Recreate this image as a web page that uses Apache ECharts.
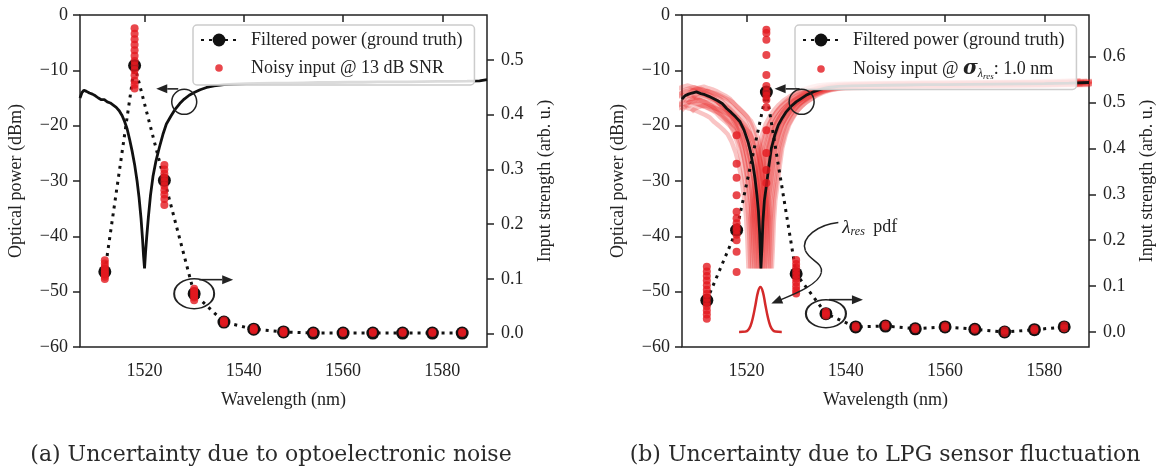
<!DOCTYPE html>
<html>
<head>
<meta charset="utf-8">
<script src="https://cdn.jsdelivr.net/npm/echarts@6/dist/echarts.min.js"></script>
<style>
  html, body { margin: 0; padding: 0; background: #ffffff; }
  #main { width: 1168px; height: 472px; }
</style>
</head>
<body>
<div id="main"></div>
<script>
// ---------- data ----------
const wavelengths = [1512, 1518, 1524, 1530, 1536, 1542, 1548, 1554, 1560, 1566, 1572, 1578, 1584];

// (a) optoelectronic noise
const filteredA = [0.113, 0.490, 0.280, 0.073, 0.021, 0.008, 0.003, 0.001, 0.001, 0.001, 0.001, 0.001, 0.001];
const noisyA = [
  [0.134, 0.128, 0.122, 0.118, 0.114, 0.111, 0.108, 0.104, 0.100],
  [0.558, 0.548, 0.538, 0.528, 0.518, 0.508, 0.498, 0.490, 0.482, 0.472, 0.462, 0.455, 0.448],
  [0.308, 0.300, 0.292, 0.285, 0.278, 0.270, 0.262, 0.254, 0.246, 0.235],
  [0.082, 0.078, 0.074, 0.070, 0.066, 0.061],
  [0.024, 0.021, 0.019],
  [0.010, 0.008, 0.006],
  [0.005, 0.003, 0.001],
  [0.003, 0.001],
  [0.003, 0.001],
  [0.003, 0.001],
  [0.003, 0.001],
  [0.003, 0.001],
  [0.003, 0.001]
];
const spectrumA_wl = [1507.0, 1507.4, 1507.8, 1508.3, 1508.9, 1509.5, 1510.1, 1510.7, 1511.3, 1511.9, 1512.5, 1513.1, 1513.7, 1514.3, 1514.9, 1515.5, 1516.0, 1516.5, 1517.0, 1517.5, 1518.0, 1518.5, 1518.9, 1519.3, 1519.6, 1519.8, 1520.0, 1520.2, 1520.45, 1520.8, 1521.2, 1521.7, 1522.3, 1523.0, 1523.7, 1524.4, 1525.3, 1526.2, 1527.1, 1528.0, 1529.0, 1530.0, 1531.2, 1532.5, 1534.0, 1536.0, 1538.0, 1540.5, 1543.0, 1546.0, 1549.0, 1552.0, 1555.0, 1558.0, 1561.0, 1564.0, 1567.0, 1570.0, 1573.0, 1576.0, 1579.0, 1582.0, 1585.0, 1587.5, 1589.0];
const spectrumA_dbm = [-15.0, -14.0, -13.6, -13.8, -14.1, -14.3, -14.6, -15.0, -15.3, -15.3, -15.7, -15.9, -16.3, -16.7, -17.3, -18.2, -19.3, -20.6, -22.5, -24.6, -27.0, -30.0, -33.0, -36.8, -40.5, -43.5, -45.8, -43.0, -40.0, -36.3, -32.6, -29.2, -26.4, -23.9, -21.6, -19.7, -18.3, -17.0, -16.0, -15.2, -14.5, -14.0, -13.5, -13.1, -12.8, -12.6, -12.5, -12.4, -12.35, -12.3, -12.3, -12.25, -12.2, -12.2, -12.15, -12.15, -12.1, -12.1, -12.1, -12.05, -12.0, -12.0, -11.95, -11.9, -11.7];

// (b) LPG sensor fluctuation
const filteredB = [0.069, 0.222, 0.523, 0.127, 0.040, 0.011, 0.013, 0.007, 0.011, 0.006, 0.000, 0.005, 0.011];
const noisyB = [
  [0.142, 0.132, 0.122, 0.112, 0.102, 0.092, 0.083, 0.074, 0.065, 0.056, 0.047, 0.038, 0.029],
  [0.429, 0.367, 0.336, 0.298, 0.262, 0.248, 0.237, 0.228, 0.222, 0.212, 0.200, 0.175, 0.131],
  [0.659, 0.652, 0.637, 0.604, 0.560, 0.536, 0.523, 0.515, 0.506, 0.490, 0.440, 0.390, 0.353, 0.325],
  [0.157, 0.148, 0.140, 0.132, 0.124, 0.116, 0.108, 0.099, 0.091, 0.084],
  [0.044, 0.040, 0.036],
  [0.013, 0.010],
  [0.016, 0.012],
  [0.009, 0.006],
  [0.013, 0.009],
  [0.008, 0.005],
  [0.003, -0.002],
  [0.007, 0.004],
  [0.014, 0.008]
];
const spectrumB_wl = [1507.0, 1507.6, 1508.3, 1509.0, 1509.9, 1510.8, 1511.6, 1512.4, 1513.3, 1514.2, 1515.1, 1516.0, 1516.9, 1517.8, 1518.7, 1519.5, 1520.3, 1520.8, 1521.3, 1521.7, 1522.1, 1522.4, 1522.65, 1522.9, 1523.1, 1523.3, 1523.6, 1524.1, 1524.5, 1525.0, 1525.7, 1526.4, 1527.2, 1528.0, 1529.0, 1530.0, 1531.0, 1532.2, 1533.4, 1535.0, 1536.5, 1538.5, 1541.0, 1544.0, 1548.0, 1552.0, 1556.0, 1560.0, 1565.0, 1570.0, 1575.0, 1580.0, 1585.0, 1589.0];
const spectrumB_dbm = [-15.2, -14.6, -14.3, -14.1, -13.9, -14.2, -14.4, -14.7, -15.1, -15.5, -16.0, -16.9, -17.6, -18.4, -19.3, -20.8, -22.9, -24.7, -27.1, -29.5, -32.6, -35.5, -39.5, -45.8, -42.0, -37.4, -33.5, -30.2, -27.3, -24.1, -21.7, -19.9, -18.6, -17.5, -16.5, -15.7, -15.1, -14.4, -13.9, -13.4, -13.1, -12.9, -12.8, -12.75, -12.7, -12.65, -12.6, -12.6, -12.55, -12.5, -12.45, -12.4, -12.3, -12.2];
const dipB = 1522.9;

// resonance wavelength samples: shift in nm, level change in dB on the short / long side
const lambdaShifts = [-2.5, -2.1, -1.7, -1.3, -1.0, -0.7, -0.4, -0.1, 0.2, 0.5, 0.8, 1.1, 1.5, 1.9, 2.2];
const levelShort = [-2.8, -0.5, 1.2, -1.8, 0.4, -1.2, 0.9, -2.2, -0.3, -1.5, 0.6, -0.9, 1.0, -2.5, 0.2];
const levelLong = [0.3, -0.2, 0.4, -0.3, 0.1, -0.1, 0.3, -0.3, 0.1, -0.4, 0.2, -0.2, 0.3, -0.2, 0.1];

// probability density of the resonance wavelength
const pdfWl = [1518.5, 1519.8, 1520.3, 1520.8, 1521.3, 1521.8, 1522.3, 1522.8, 1523.3, 1523.8, 1524.3, 1524.8, 1525.3, 1525.8, 1527.1];
const pdfVal = [0, 0.001, 0.004, 0.013, 0.032, 0.059, 0.087, 0.098, 0.087, 0.059, 0.032, 0.013, 0.004, 0.001, 0];

const wavelengthTicks = [1520, 1540, 1560, 1580];
const strengthTicksA = [0, 0.1, 0.2, 0.3, 0.4, 0.5];
const strengthTicksB = [0, 0.1, 0.2, 0.3, 0.4, 0.5, 0.6];

const captionA = '(a) Uncertainty due to optoelectronic noise';
const captionB = '(b) Uncertainty due to LPG sensor fluctuation';

// ---------- styles ----------
const FONT = '"Liberation Serif", "Times New Roman", serif';
const CAPTION_FONT = '"DejaVu Serif", serif';
const INK = '#222222';
const RED = '#e3191f';
const FILTERED = 'Filtered power (ground truth)';
const NOISY_A = 'Noisy input @ 13 dB SNR';
const NOISY_B = 'Noisy input @ sigma 1.0 nm';

const pairs = (xs, ys) => xs.map((x, i) => [x, ys[i]]);
const columns = (xs, cols) => {
  const out = [];
  cols.forEach((col, i) => col.forEach(v => out.push([xs[i], v])));
  return out;
};
const minus = v => (v < 0 ? '\u2212' + Math.abs(v) : String(v));

function xAxisFor(grid) {
  return {
    type: 'value', gridIndex: grid, min: 1507, max: 1589,
    axisLine: { show: false },
    axisTick: { show: true, customValues: wavelengthTicks, length: 7, lineStyle: { color: INK, width: 1.5 } },
    axisLabel: { customValues: wavelengthTicks, fontSize: 18, fontFamily: FONT, color: INK, margin: 15,
                 formatter: v => String(v) },
    splitLine: { show: false },
    name: 'Wavelength (nm)', nameLocation: 'middle', nameGap: 44,
    nameTextStyle: { fontSize: 18, fontFamily: FONT, color: INK }
  };
}
function powerAxis(grid) {
  return {
    type: 'value', gridIndex: grid, position: 'left', min: -60, max: 0, interval: 10,
    axisLine: { show: false },
    axisTick: { show: true, length: 7, lineStyle: { color: INK, width: 1.5 } },
    axisLabel: { fontSize: 18, fontFamily: FONT, color: INK, margin: 12, formatter: minus },
    splitLine: { show: false },
    name: 'Optical power (dBm)', nameLocation: 'middle', nameGap: 55, nameRotate: 90,
    nameTextStyle: { fontSize: 18, fontFamily: FONT, color: INK }
  };
}
function strengthAxis(grid, lo, hi, ticks) {
  return {
    type: 'value', gridIndex: grid, position: 'right', min: lo, max: hi,
    axisLine: { show: false },
    axisTick: { show: true, customValues: ticks, length: 7, lineStyle: { color: INK, width: 1.5 } },
    axisLabel: { customValues: ticks, fontSize: 18, fontFamily: FONT, color: INK, margin: 14,
                 formatter: v => v.toFixed(1) },
    splitLine: { show: false },
    name: 'Input strength (arb. u.)', nameLocation: 'middle', nameGap: 49, nameRotate: 90,
    nameTextStyle: { fontSize: 18, fontFamily: FONT, color: INK }
  };
}

const dotIcon = 'path://M0 0M16 16M4.2 8A3.8 3.8 0 1 1 11.8 8A3.8 3.8 0 1 1 4.2 8Z';

function legendFor(left, noisyName) {
  return {
    orient: 'vertical', left: left, top: 25,
    data: [FILTERED, { name: noisyName, icon: dotIcon }],
    itemWidth: 36, itemHeight: 16, itemGap: 10,
    padding: [6, 12, 8, 7],
    backgroundColor: 'rgba(255,255,255,0.85)',
    borderColor: '#cccccc', borderWidth: 1.5, borderRadius: 4,
    selectedMode: false,
    textStyle: {
      fontSize: 18, fontFamily: FONT, color: INK, padding: [0, 0, 0, 9],
      rich: {
        sig: { fontSize: 20, fontFamily: '"DejaVu Serif", serif', fontStyle: 'italic', fontWeight: 'bold', color: INK },
        sub: { fontSize: 12, fontFamily: FONT, fontStyle: 'italic', color: INK, padding: [9, 0, 0, 0] },
        subsub: { fontSize: 9, fontFamily: FONT, fontStyle: 'italic', color: INK, padding: [16, 0, 0, 0] }
      }
    },
    formatter: name => (name === NOISY_B ? 'Noisy input @ {sig|σ}{sub|λ}{subsub|res}: 1.0 nm' : name)
  };
}

// shifted copies of the spectrum for each sampled resonance wavelength
const bandSeries = lambdaShifts.map((s, k) => ({
  type: 'line', name: 'sample ' + k, xAxisIndex: 1, yAxisIndex: 2,
  data: spectrumB_wl.map((w, i) => {
    const lvl = w < dipB ? levelShort[k] : levelLong[k];
    return [w + s, spectrumB_dbm[i] + lvl * (spectrumB_dbm[i] + 45.8) / 33];
  }),
  showSymbol: false, symbol: 'none', silent: true, z: 1,
  lineStyle: { color: 'rgba(230,28,28,0.26)', width: 4.5 }
}));

const chart = echarts.init(document.getElementById('main'), null, { renderer: 'canvas' });

chart.setOption({
  animation: false,
  backgroundColor: '#ffffff',
  textStyle: { fontFamily: FONT },
  grid: [
    { left: 80, top: 15, width: 407, height: 332, show: true, borderColor: INK, borderWidth: 1.5, backgroundColor: 'transparent' },
    { left: 682, top: 15, width: 407, height: 332, show: true, borderColor: INK, borderWidth: 1.5, backgroundColor: 'transparent' }
  ],
  xAxis: [xAxisFor(0), xAxisFor(1)],
  yAxis: [
    powerAxis(0),
    strengthAxis(0, -0.0245, 0.5823, strengthTicksA),
    powerAxis(1),
    strengthAxis(1, -0.0327, 0.691, strengthTicksB)
  ],
  legend: [legendFor(193, NOISY_A), legendFor(795, NOISY_B)],
  series: [
    {
      type: 'line', name: 'spectrum a', xAxisIndex: 0, yAxisIndex: 0,
      data: pairs(spectrumA_wl, spectrumA_dbm), showSymbol: false, symbol: 'none', z: 2,
      lineStyle: { color: '#111111', width: 2.8 }
    },
    {
      type: 'line', name: FILTERED, xAxisIndex: 0, yAxisIndex: 1,
      data: pairs(wavelengths, filteredA), symbol: 'circle', symbolSize: 13, z: 3,
      itemStyle: { color: '#111111' },
      lineStyle: { color: '#111111', width: 3, type: [3, 5] }
    },
    {
      type: 'scatter', name: NOISY_A, xAxisIndex: 0, yAxisIndex: 1,
      data: columns(wavelengths, noisyA), symbolSize: 8, z: 4,
      itemStyle: { color: RED }
    },
    ...bandSeries,
    {
      type: 'line', name: 'spectrum b', xAxisIndex: 1, yAxisIndex: 2,
      data: pairs(spectrumB_wl, spectrumB_dbm), showSymbol: false, symbol: 'none', z: 2,
      lineStyle: { color: '#111111', width: 2.8 }
    },
    {
      type: 'line', name: 'resonance pdf', xAxisIndex: 1, yAxisIndex: 3,
      data: pairs(pdfWl, pdfVal), showSymbol: false, symbol: 'none', smooth: 0.4, z: 2,
      lineStyle: { color: '#d42a2a', width: 2.5 }
    },
    {
      type: 'line', name: FILTERED, xAxisIndex: 1, yAxisIndex: 3,
      data: pairs(wavelengths, filteredB), symbol: 'circle', symbolSize: 13, z: 3,
      itemStyle: { color: '#111111' },
      lineStyle: { color: '#111111', width: 3, type: [3, 5] }
    },
    {
      type: 'scatter', name: NOISY_B, xAxisIndex: 1, yAxisIndex: 3,
      data: columns(wavelengths, noisyB), symbolSize: 8, z: 4,
      itemStyle: { color: RED }
    }
  ]
});

// ---------- annotations (anchored in data coordinates) ----------
const toPx = (xi, yi, pt) => chart.convertToPixel({ xAxisIndex: xi, yAxisIndex: yi }, pt);
const stroke = { fill: 'none', stroke: INK, lineWidth: 1.5 };

function arrow(from, to, withShaft) {
  const dx = to[0] - from[0], dy = to[1] - from[1];
  const len = Math.hypot(dx, dy), ux = dx / len, uy = dy / len;
  const hl = 11, hw = 4.5;
  const bx = to[0] - ux * hl, by = to[1] - uy * hl;
  const head = { type: 'polygon', shape: { points: [to, [bx - uy * hw, by + ux * hw], [bx + uy * hw, by - ux * hw]] }, style: { fill: INK }, z: 50 };
  if (withShaft === false) return [head];
  return [{ type: 'line', shape: { x1: from[0], y1: from[1], x2: bx, y2: by }, style: { stroke: INK, lineWidth: 1.6 }, z: 50 }, head];
}
function ring(c, rx, ry) {
  return { type: 'circle', x: c[0], y: c[1], scaleX: rx / ry, shape: { cx: 0, cy: 0, r: ry },
           style: Object.assign({ strokeNoScale: true }, stroke), z: 50 };
}
function bez(o, p0, c1, c2, p1) {
  return { type: 'bezierCurve', z: 50, style: stroke,
    shape: { x1: o[0] + p0[0], y1: o[1] + p0[1], cpx1: o[0] + c1[0], cpy1: o[1] + c1[1],
             cpx2: o[0] + c2[0], cpy2: o[1] + c2[1], x2: o[0] + p1[0], y2: o[1] + p1[1] } };
}

const circleA = toPx(0, 0, [1528.0, -15.7]);
const ellipseA = toPx(0, 1, [1530, filteredA[3]]);
const circleB = toPx(1, 2, [1531.1, -15.7]);
const ellipseB = toPx(1, 3, [1536, filteredB[4]]);
const pdfLabel = toPx(1, 2, [1538.5, -37.5]);

const P = (o, dx, dy) => [o[0] + dx, o[1] + dy];

const graphics = [
  ring(circleA, 12.5, 12.5),
  ...arrow(P(circleA, -6, -13), P(circleA, -28, -13)),
  ring(ellipseA, 20, 15),
  ...arrow(P(ellipseA, 5, -14), P(ellipseA, 39, -14)),
  ring(circleB, 12.5, 12.5),
  ...arrow(P(circleB, -2, -13), P(circleB, -27, -13)),
  ring(ellipseB, 20, 14),
  ...arrow(P(ellipseB, 3, -14), P(ellipseB, 37, -14)),
  bez(pdfLabel, [0, 0], [-20, 2], [-38, 15], [-33, 28]),
  bez(pdfLabel, [-33, 28], [-29, 38], [-15, 40], [-17, 50]),
  bez(pdfLabel, [-17, 50], [-19, 62], [-45, 72], [-62, 79]),
  ...arrow(P(pdfLabel, -45, 72), P(pdfLabel, -67, 81), false),
  {
    type: 'text', x: pdfLabel[0] + 4, y: pdfLabel[1] + 5, z: 50,
    style: {
      text: '{l|λ}{r|res} pdf', fill: INK, font: '18px ' + FONT, verticalAlign: 'middle',
      rich: {
        l: { fontSize: 19, fontFamily: FONT, fontStyle: 'italic', fill: INK },
        r: { fontSize: 12, fontFamily: FONT, fontStyle: 'italic', fill: INK, padding: [8, 4, 0, 0] }
      }
    }
  },
  {
    type: 'text', x: 271, y: 455, z: 50,
    style: { text: captionA, fill: '#2a2a2a', font: '22px ' + CAPTION_FONT, align: 'center', verticalAlign: 'middle' }
  },
  {
    type: 'text', x: 885, y: 455, z: 50,
    style: { text: captionB, fill: '#2a2a2a', font: '22px ' + CAPTION_FONT, align: 'center', verticalAlign: 'middle' }
  }
];
chart.setOption({ graphic: graphics });
</script>
</body>
</html>
